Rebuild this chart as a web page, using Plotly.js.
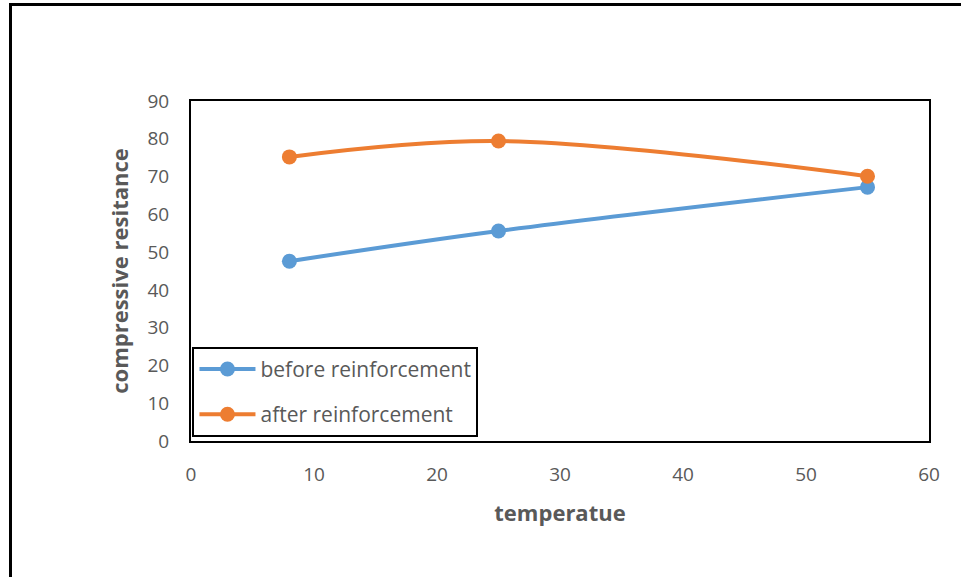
<!DOCTYPE html>
<html>
<head>
<meta charset="utf-8">
<script src="https://cdn.plot.ly/plotly-3.0.1.min.js"></script>
<style>
html,body{margin:0;padding:0;background:#fff;}
#frame{position:absolute;left:9px;top:3px;width:960px;height:580px;border-left:3px solid #000;border-top:3px solid #000;box-sizing:border-box;pointer-events:none;z-index:5;}
#chart{position:absolute;left:0;top:0;width:961px;height:577px;}
</style>
</head>
<body>
<div id="chart"></div>
<div id="frame"></div>
<script>
const temperature = [8, 25, 55];
const beforeReinforcement = [47.6, 55.6, 67.2];
const afterReinforcement = [75.2, 79.4, 70.1];
const seriesNames = ["before reinforcement", "after reinforcement"];
const xTicks = [0, 10, 20, 30, 40, 50, 60];
const yTicks = [0, 10, 20, 30, 40, 50, 60, 70, 80, 90];

const gray = '#595959';
const font = '"Open Sans", "Noto Sans", sans-serif';

const traces = [
  {x: temperature, y: beforeReinforcement, name: seriesNames[0], mode: 'lines+markers', legendgroup: 'a',
   line: {color: '#5B9BD5', width: 4, shape: 'spline'}, marker: {color: '#5B9BD5', size: 15}},
  {x: temperature, y: afterReinforcement, name: seriesNames[1], mode: 'lines+markers', legendgroup: 'b',
   line: {color: '#ED7D31', width: 4, shape: 'spline'}, marker: {color: '#ED7D31', size: 15}}
];

const layout = {
  width: 961, height: 577,
  margin: {l: 191, r: 32, t: 101, b: 136},
  paper_bgcolor: '#fff', plot_bgcolor: '#fff',
  font: {family: font, color: gray, size: 19},
  showlegend: true,
  legend: {x: 0.002, y: 0.277, xanchor: 'left', yanchor: 'top', bgcolor: '#fff',
           bordercolor: '#000', borderwidth: 2, font: {size: 21, color: gray},
           itemwidth: 56, traceorder: 'grouped', tracegroupgap: 15,
           entrywidth: 285, entrywidthmode: 'pixels'},
  xaxis: {range: [0, 60], tickvals: xTicks, ticktext: xTicks.map(String), showgrid: false, zeroline: false,
          showline: true, mirror: true, linecolor: '#000', linewidth: 2,
          ticks: 'outside', ticklen: 15, tickcolor: 'rgba(0,0,0,0)',
          tickfont: {size: 19, color: gray},
          title: {text: '<b>temperatue</b>', font: {size: 22, color: gray}, standoff: 20}},
  yaxis: {range: [0, 90], tickvals: yTicks, ticktext: yTicks.map(String), showgrid: false, zeroline: false,
          showline: true, mirror: true, linecolor: '#000', linewidth: 2,
          ticks: 'outside', ticklen: 16, tickcolor: 'rgba(0,0,0,0)',
          tickfont: {size: 19, color: gray},
          title: {text: '<b>compressive resitance</b>', font: {size: 22, color: gray}, standoff: 13}}
};

Plotly.newPlot('chart', traces, layout, {displayModeBar: false, staticPlot: true});
</script>
</body>
</html>
